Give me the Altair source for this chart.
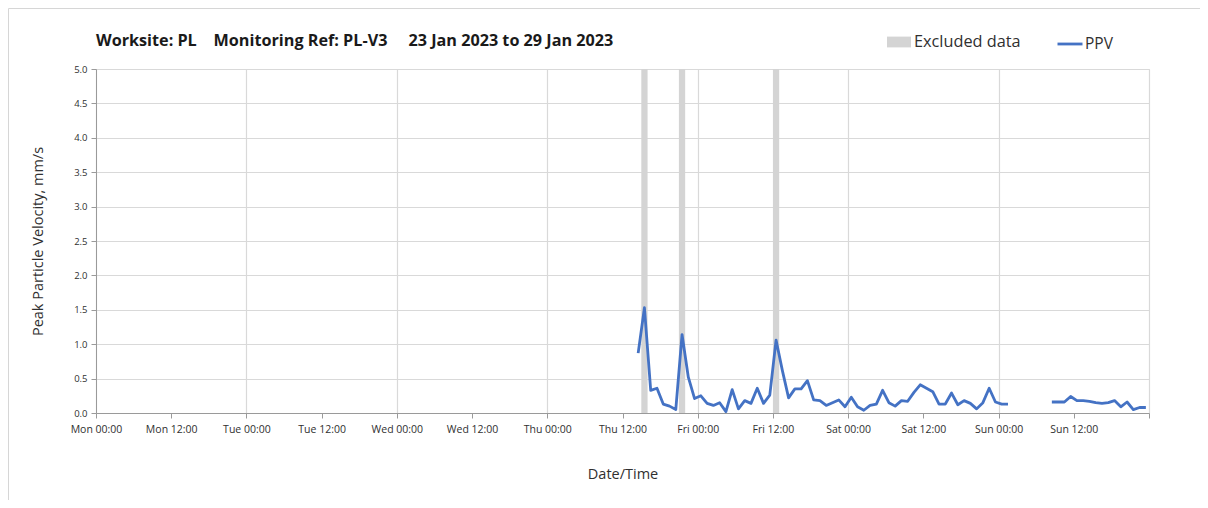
import altair as alt
import pandas as pd

# ---- data ----
seg1_start = "2023-01-26T14:30:00"
seg1_values = [0.87, 1.53, 0.33, 0.36, 0.13, 0.10, 0.05, 1.14, 0.52, 0.21,
               0.25, 0.14, 0.11, 0.15, 0.02, 0.34, 0.06, 0.18, 0.14, 0.36,
               0.14, 0.26, 1.06, 0.62, 0.22, 0.35, 0.35, 0.47, 0.19, 0.18,
               0.11, 0.15, 0.19, 0.09, 0.23, 0.09, 0.04, 0.11, 0.13, 0.33,
               0.15, 0.10, 0.18, 0.17, 0.30, 0.41, 0.36, 0.31, 0.13, 0.13,
               0.29, 0.12, 0.18, 0.14, 0.06, 0.15, 0.36, 0.16, 0.13, 0.13]
seg2_start = "2023-01-29T08:30:00"
seg2_values = [0.16, 0.16, 0.16, 0.24, 0.18, 0.18, 0.17, 0.15, 0.14, 0.15,
               0.18, 0.09, 0.16, 0.05, 0.08, 0.08]

excl_start = ["2023-01-26T15:00:00", "2023-01-26T21:00:00", "2023-01-27T12:00:00"]
excl_end = ["2023-01-26T16:00:00", "2023-01-26T22:00:00", "2023-01-27T13:00:00"]

x_domain = ["2023-01-23T00:00:00", "2023-01-30T00:00:00"]
x_ticks = [t.strftime("%Y-%m-%dT%H:%M:%S")
           for t in pd.date_range(x_domain[0], x_domain[1], freq="12h")]
y_ticks = [0.0, 0.5, 1.0, 1.5, 2.0, 2.5, 3.0, 3.5, 4.0, 4.5, 5.0]

title_text = ("Worksite: PL\u00a0\u00a0\u00a0 Monitoring Ref: PL-V3"
              "\u00a0\u00a0\u00a0\u00a0 23 Jan 2023 to 29 Jan 2023")

# ---- tables ----
rows = []
for start, vals, seg in [(seg1_start, seg1_values, 1), (seg2_start, seg2_values, 2)]:
    times = pd.date_range(start, periods=len(vals), freq="1h")
    for t, v in zip(times, vals):
        rows.append({"time": t.strftime("%Y-%m-%dT%H:%M:%S"), "ppv": v,
                     "seg": seg, "series": "PPV"})
line_df = pd.DataFrame(rows)

excl_df = pd.DataFrame({"start": excl_start, "end": excl_end,
                        "lo": [0.0] * 3, "hi": [5.0] * 3,
                        "label": ["Excluded data"] * 3})

FONT = "Open Sans"

x_axis = alt.Axis(
    title="Date/Time", values=x_ticks,
    labelExpr="date(datum.value) == 30 ? '' : timeFormat(datum.value, '%a %H:%M')",
    labelFont=FONT, labelFontSize=10.5, labelColor="#303030", labelPadding=6,
    labelFlush=False, labelOverlap=False,
    titleFont=FONT, titleFontSize=14.5, titleFontWeight="normal", titleColor="#303030",
    titlePadding=33,
    domainColor="#9a9a9a", tickColor="#9a9a9a", tickSize=5,
    gridColor={"condition": {"test": "hours(datum.value) == 0", "value": "#d9d9d9"},
               "value": "rgba(0,0,0,0)"},
    gridWidth=1.2,
)

y_axis = alt.Axis(
    title="Peak Particle Velocity, mm/s", values=y_ticks, format=".1f",
    labelFont=FONT, labelFontSize=9.5, labelColor="#303030", labelPadding=4,
    labelOverlap=False,
    titleFont=FONT, titleFontSize=14.5, titleFontWeight="normal", titleColor="#303030",
    titlePadding=28,
    domainColor="#9a9a9a", tickColor="#9a9a9a", tickSize=5,
    gridColor="#d9d9d9", gridWidth=1.2,
)

xs = alt.Scale(domain=x_domain, nice=False)
ys = alt.Scale(domain=[0, 5], nice=False)

# outer frame of the figure (decoration)
frame = alt.Chart(pd.DataFrame({"k": [0]})).mark_rect(
    fill="transparent", stroke="#d6d6d6", strokeWidth=1
).encode(x=alt.value(-87.5), x2=alt.value(1108), y=alt.value(-60.5), y2=alt.value(460))

bars = alt.Chart(excl_df).mark_rect(opacity=1).encode(
    x=alt.X("start:T", scale=xs, axis=x_axis),
    x2="end:T",
    y=alt.Y("lo:Q", scale=ys, axis=y_axis),
    y2="hi:Q",
    color=alt.Color("label:N",
                    scale=alt.Scale(domain=["Excluded data"], range=["#d4d4d4"]),
                    legend=alt.Legend(title=None, orient="none", legendX=791, legendY=-39,
                                      symbolType="M-1,-0.45H1V0.45H-1Z", symbolSize=576,
                                      symbolStrokeWidth=0, labelFont=FONT, labelFontSize=16.3,
                                      labelColor="#303030", labelOffset=3)),
)

line = alt.Chart(line_df).mark_line(strokeWidth=2.8, strokeJoin="round").encode(
    x=alt.X("time:T", scale=xs, axis=x_axis),
    y=alt.Y("ppv:Q", scale=ys, axis=y_axis),
    detail="seg:N",
    stroke=alt.Stroke("series:N",
                      scale=alt.Scale(domain=["PPV"], range=["#4472c4"]),
                      legend=alt.Legend(title=None, orient="none", legendX=960, legendY=-39,
                                        symbolType="stroke", symbolSize=625,
                                        symbolStrokeWidth=2.8, labelFont=FONT,
                                        labelFontSize=15.5, labelColor="#303030",
                                        labelOffset=1)),
)

chart = alt.layer(frame, bars, line).resolve_scale(color="independent").properties(
    width=1053, height=344,
    padding={"left": 88, "top": 61, "right": 51, "bottom": 87},
    autosize=alt.AutoSizeParams(type="none"),
    title=alt.TitleParams(title_text, anchor="start", frame="group", font=FONT,
                          fontSize=16.2, fontWeight="bold", color="#1a1a1a", offset=-41),
).configure_view(stroke=None).configure(background="white")

chart.save("out.html", embed_options={"renderer": "svg", "actions": False})
